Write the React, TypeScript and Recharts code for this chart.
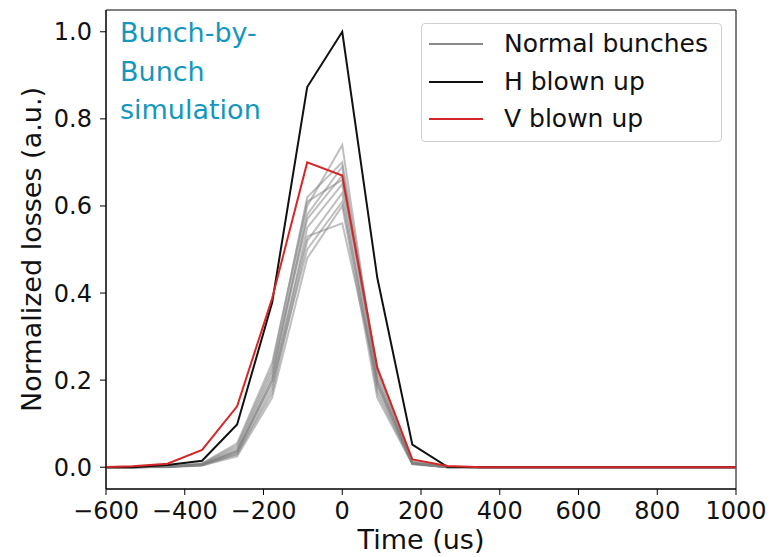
import React from "react";
import { LineChart, Line, XAxis, YAxis, Legend, Label, ReferenceArea } from "recharts";

const times = [-622, -533, -444, -356, -267, -178, -89, 0, 89, 178, 267, 356, 444, 533, 622, 711, 800, 889, 978, 1067];

const hBlownUp = [0, 0, 0.005, 0.015, 0.098, 0.378, 0.873, 1.0, 0.435, 0.052, 0.001, 0, 0, 0, 0, 0, 0, 0, 0, 0];
const vBlownUp = [0, 0.002, 0.008, 0.04, 0.14, 0.388, 0.7, 0.67, 0.228, 0.018, 0.003, 0, 0, 0, 0, 0, 0, 0, 0, 0];

const normal1 = [0, 0, 0.001, 0.006, 0.04, 0.21, 0.6, 0.74, 0.2, 0.01, 0.001, 0, 0, 0, 0, 0, 0, 0, 0, 0];
const normal2 = [0, 0, 0.001, 0.008, 0.05, 0.23, 0.62, 0.7, 0.22, 0.012, 0.001, 0, 0, 0, 0, 0, 0, 0, 0, 0];
const normal3 = [0, 0, 0.001, 0.005, 0.035, 0.2, 0.58, 0.69, 0.19, 0.009, 0, 0, 0, 0, 0, 0, 0, 0, 0, 0];
const normal4 = [0, 0, 0.001, 0.007, 0.045, 0.22, 0.57, 0.67, 0.21, 0.01, 0, 0, 0, 0, 0, 0, 0, 0, 0, 0];
const normal5 = [0, 0, 0.002, 0.009, 0.055, 0.24, 0.61, 0.66, 0.23, 0.013, 0.001, 0, 0, 0, 0, 0, 0, 0, 0, 0];
const normal6 = [0, 0, 0.001, 0.005, 0.03, 0.18, 0.55, 0.65, 0.18, 0.008, 0, 0, 0, 0, 0, 0, 0, 0, 0, 0];
const normal7 = [0, 0, 0.001, 0.004, 0.03, 0.17, 0.52, 0.63, 0.17, 0.008, 0, 0, 0, 0, 0, 0, 0, 0, 0, 0];
const normal8 = [0, 0, 0.001, 0.006, 0.038, 0.19, 0.5, 0.61, 0.19, 0.009, 0, 0, 0, 0, 0, 0, 0, 0, 0, 0];
const normal9 = [0, 0, 0, 0.004, 0.025, 0.16, 0.48, 0.6, 0.16, 0.007, 0, 0, 0, 0, 0, 0, 0, 0, 0, 0];
const normal10 = [0, 0, 0.001, 0.005, 0.035, 0.2, 0.53, 0.56, 0.2, 0.009, 0, 0, 0, 0, 0, 0, 0, 0, 0, 0];

const normalBunches = [normal1, normal2, normal3, normal4, normal5, normal6, normal7, normal8, normal9, normal10];

const xTicks = [-600, -400, -200, 0, 200, 400, 600, 800, 1000];
const yTicks = [0, 0.2, 0.4, 0.6, 0.8, 1.0];
const xDomain = [-600, 1000];
const yDomain = [-0.05, 1.05];

const legendLabels = ["Normal bunches", "H blown up", "V blown up"];
const legendColors = ["#8a8a8a", "#111111", "#d62728"];

const titleLines = ["Bunch-by-", "Bunch", "simulation"];

const data = times.map((t, i) => {
  const row: Record<string, number> = { t, h: hBlownUp[i], v: vBlownUp[i] };
  normalBunches.forEach((s, k) => {
    row["n" + k] = s[i];
  });
  return row;
});

const FONT = "'DejaVu Sans', sans-serif";

const LegendBox = () => (
  <div
    style={{
      width: 299,
      height: 117,
      border: "1px solid #d0d0d0",
      borderRadius: 4,
      background: "rgba(255,255,255,0.85)",
      boxSizing: "content-box",
      fontFamily: FONT,
      fontSize: 25,
      color: "#111",
      position: "relative",
    }}
  >
    {legendLabels.map((lab, i) => (
      <div
        key={lab}
        style={{
          position: "absolute",
          left: 0,
          top: 20 + i * 37.5 - 18,
          height: 36,
          display: "flex",
          alignItems: "center",
          whiteSpace: "nowrap",
        }}
      >
        <div style={{ marginLeft: 7, width: 54, height: 2, background: legendColors[i] }} />
        <span style={{ marginLeft: 21, lineHeight: "36px" }}>{lab}</span>
      </div>
    ))}
  </div>
);

const fmtX = (v: number) => String(v).replace("-", "\u2212");
const fmtY = (v: number) => v.toFixed(1);

export default function App() {
  return (
    <div style={{ position: "absolute", left: 0, top: 0, width: 774, height: 557, background: "#fff" }}>
      <LineChart
        width={774}
        height={557}
        data={data}
        margin={{ top: 10, right: 38, bottom: 0, left: 0 }}
      >
        <XAxis
          dataKey="t"
          type="number"
          domain={xDomain}
          ticks={xTicks}
          tickFormatter={fmtX}
          allowDataOverflow
          height={68}
          tickSize={6}
          tickMargin={7}
          stroke="#000"
          tick={{ fill: "#111", fontSize: 24, fontFamily: FONT }}
        >
          <Label
            value="Time (us)"
            position="insideBottom"
            offset={8}
            style={{ fontSize: 27, fontFamily: FONT, fill: "#111" }}
          />
        </XAxis>
        <YAxis
          type="number"
          domain={yDomain}
          ticks={yTicks}
          tickFormatter={fmtY}
          allowDataOverflow
          width={106}
          tickSize={6}
          tickMargin={8}
          stroke="#000"
          tick={{ fill: "#111", fontSize: 24, fontFamily: FONT }}
        >
          <Label
            content={(props: any) => {
              const vb = props.viewBox || { x: 0, y: 10, height: 479 };
              const cx = vb.x + 41;
              const cy = vb.y + vb.height / 2;
              return (
                <text
                  x={cx}
                  y={cy}
                  transform={`rotate(-90 ${cx} ${cy})`}
                  textAnchor="middle"
                  style={{ fontSize: 27, fontFamily: FONT, fill: "#111" }}
                >
                  Normalized losses (a.u.)
                </text>
              );
            }}
          />
        </YAxis>
        <ReferenceArea
          x1={xDomain[0]}
          x2={xDomain[1]}
          y1={yDomain[0]}
          y2={yDomain[1]}
          fill="none"
          fillOpacity={0}
          stroke="#000"
          strokeWidth={1}
          ifOverflow="visible"
        />
        {normalBunches.map((_, k) => (
          <Line
            key={"n" + k}
            dataKey={"n" + k}
            stroke="#808080"
            strokeOpacity={0.5}
            strokeWidth={2}
            dot={false}
            isAnimationActive={false}
            legendType="none"
          />
        ))}
        <Line dataKey="h" stroke="#111111" strokeWidth={2} dot={false} isAnimationActive={false} />
        <Line dataKey="v" stroke="#d62728" strokeWidth={2} dot={false} isAnimationActive={false} />
        <Legend
          layout="vertical"
          align="center"
          verticalAlign="middle"
          wrapperStyle={{ left: 421, top: 23, width: 301, height: 119 }}
          content={() => <LegendBox />}
        />
      </LineChart>
      <div
        style={{
          position: "absolute",
          left: 120,
          top: 14,
          color: "#1496be",
          fontFamily: FONT,
          fontSize: 27,
          lineHeight: "38.5px",
          pointerEvents: "none",
        }}
      >
        {titleLines.map((l) => (
          <div key={l}>{l}</div>
        ))}
      </div>
    </div>
  );
}
